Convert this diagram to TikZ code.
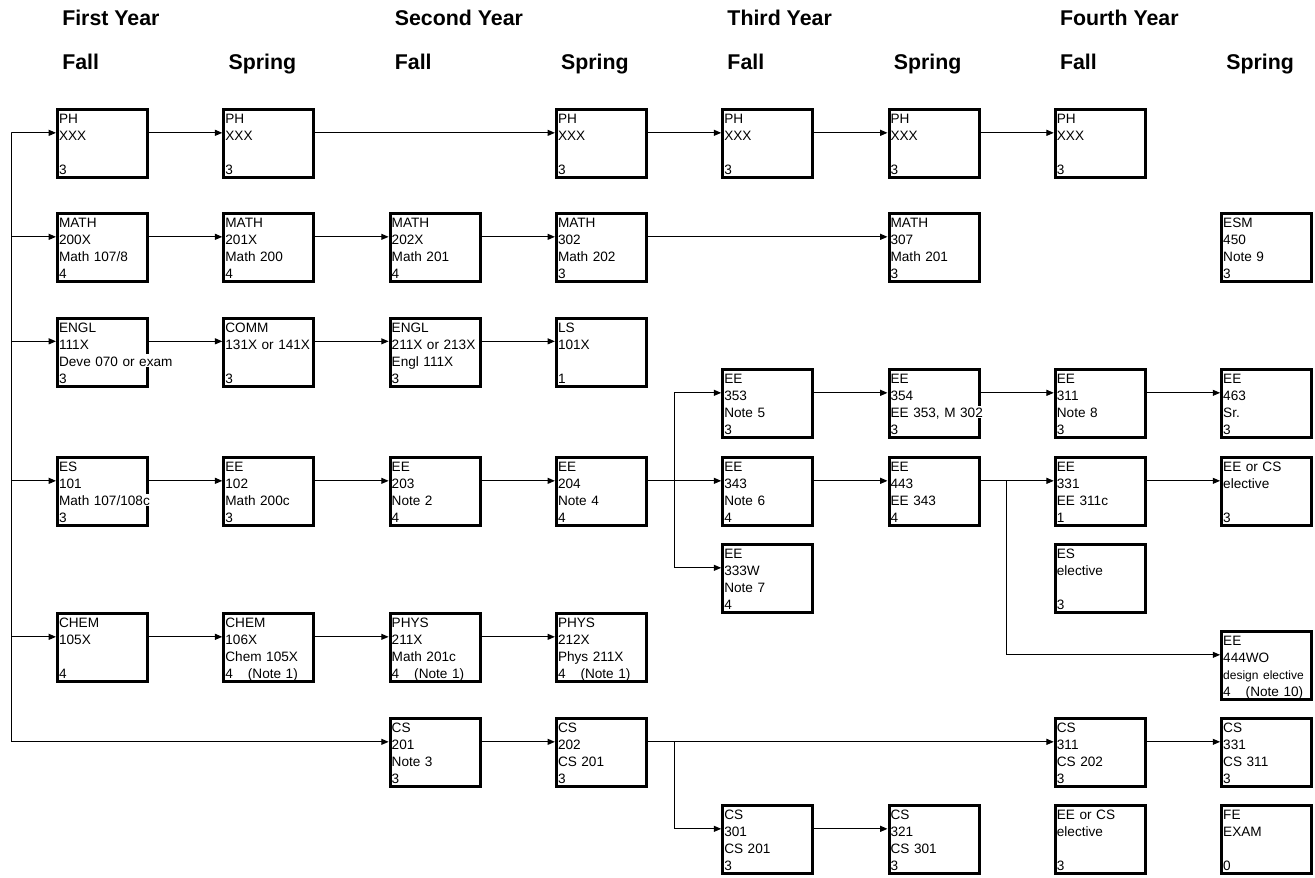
\documentclass[tikz,border=0pt]{standalone}
\usepackage{fontspec}
\setmainfont{Liberation Sans}
\usetikzlibrary{arrows.meta}

\setlength{\fboxsep}{0pt}
% one text line of a course box, white behind it
\newcommand{\cln}[1]{\colorbox{white}{\rule[-0.3pt]{0pt}{9.3pt}\smash{#1}}}
% name, position, four lines
\newcommand{\course}[6]{\node[coursebox] (#1) at (#2) {\cln{#3}\\\cln{#4}\\\cln{#5}\\\cln{#6}};}
\newcommand{\dy}{8pt}

\tikzset{
  coursebox/.style={draw, line width=2.25pt, minimum width=67.5pt, minimum height=51pt,
    text width=65.1pt, inner xsep=1.2pt, inner ysep=0pt, align=left,
    font=\fontsize{10.2}{12.75}\selectfont},
  header/.style={font=\fontsize{16}{19}\selectfont\bfseries, inner sep=0pt, anchor=base west},
  arr/.style={line width=0.75pt, -{Triangle[length=5.5pt,width=4.5pt]}}
}

\begin{document}
\begin{tikzpicture}[x=0.75pt, y=-0.75pt]
  \useasboundingbox (0,0) rectangle (1315,878);

  % headings
  \foreach \yr [count=\i] in {First,Second,Third,Fourth}
    \node[header] (yr\i) at ({62+332.6*(\i-1)},26) {\yr{} Year};
  \foreach \sem [count=\i] in {Fall,Spring,Fall,Spring,Fall,Spring,Fall,Spring}
    \node[header] (sem\i) at ({62+166.3*(\i-1)},69) {\sem};

  % first year
  \course{ph1}{102.5,143.5}{PH}{XXX}{}{3}
  \course{m1}{102.5,247.5}{MATH}{200X}{Math 107/8}{4}
  \course{en1}{102.5,352}{ENGL}{111X}{Deve 070 or exam}{3}
  \course{es101}{102.5,491.5}{ES}{101}{Math 107/108c}{3}
  \course{ch1}{102.5,647.5}{CHEM}{105X}{}{4}

  \course{ph2}{268.8,143.5}{PH}{XXX}{}{3}
  \course{m2}{268.8,247.5}{MATH}{201X}{Math 200}{4}
  \course{comm}{268.8,352}{COMM}{131X or 141X}{}{3}
  \course{ee102}{268.8,491.5}{EE}{102}{Math 200c}{3}
  \course{ch2}{268.8,647.5}{CHEM}{106X}{Chem 105X}{4\hspace{1.1em}(Note 1)}

  % second year
  \course{m3}{435.1,247.5}{MATH}{202X}{Math 201}{4}
  \course{en3}{435.1,352}{ENGL}{211X or 213X}{Engl 111X}{3}
  \course{ee203}{435.1,491.5}{EE}{203}{Note 2}{4}
  \course{phy1}{435.1,647.5}{PHYS}{211X}{Math 201c}{4\hspace{1.1em}(Note 1)}
  \course{cs201}{435.1,752.5}{CS}{201}{Note 3}{3}

  \course{ph4}{601.4,143.5}{PH}{XXX}{}{3}
  \course{m4}{601.4,247.5}{MATH}{302}{Math 202}{3}
  \course{ls}{601.4,352}{LS}{101X}{}{1}
  \course{ee204}{601.4,491.5}{EE}{204}{Note 4}{4}
  \course{phy2}{601.4,647.5}{PHYS}{212X}{Phys 211X}{4\hspace{1.1em}(Note 1)}
  \course{cs202}{601.4,752.5}{CS}{202}{CS 201}{3}

  % third year
  \course{ph5}{767.7,143.5}{PH}{XXX}{}{3}
  \course{ee353}{767.7,403.5}{EE}{353}{Note 5}{3}
  \course{ee343}{767.7,491.5}{EE}{343}{Note 6}{4}
  \course{ee333}{767.7,578.5}{EE}{333W}{Note 7}{4}
  \course{cs301}{767.7,839.5}{CS}{301}{CS 201}{3}

  \course{ph6}{934,143.5}{PH}{XXX}{}{3}
  \course{m6}{934,247.5}{MATH}{307}{Math 201}{3}
  \course{ee354}{934,403.5}{EE}{354}{EE 353, M 302}{3}
  \course{ee443}{934,491.5}{EE}{443}{EE 343}{4}
  \course{cs321}{934,839.5}{CS}{321}{CS 301}{3}

  % fourth year
  \course{ph7}{1100.3,143.5}{PH}{XXX}{}{3}
  \course{ee311}{1100.3,403.5}{EE}{311}{Note 8}{3}
  \course{ee331}{1100.3,491.5}{EE}{331}{EE 311c}{1}
  \course{eselec}{1100.3,578.5}{ES}{elective}{}{3}
  \course{cs311}{1100.3,752.5}{CS}{311}{CS 202}{3}
  \course{eecs7}{1100.3,839.5}{EE or CS}{elective}{}{3}

  \course{esm}{1266.6,247.5}{ESM}{450}{Note 9}{3}
  \course{ee463}{1266.6,403.5}{EE}{463}{Sr.}{3}
  \course{eecs8}{1266.6,491.5}{EE or CS}{elective}{}{3}
  \course{ee444}{1266.6,665.5}{EE}{444WO}{{\fontsize{9}{12.75}\selectfont design elective}}{4\hspace{1.1em}(Note 10)}
  \course{cs331}{1266.6,752.5}{CS}{331}{CS 311}{3}
  \course{fe}{1266.6,839.5}{FE}{EXAM}{}{0}

  % entry line on the left
  \coordinate (bus) at (11,132.8);
  \foreach \b in {ph1,m1,en1,es101,ch1,cs201}
    \draw[arr] (bus) |- ([yshift=\dy]\b.west);

  % straight prerequisites
  \foreach \a/\b in {ph1/ph2, ph2/ph4, ph4/ph5, ph5/ph6, ph6/ph7,
      m1/m2, m2/m3, m3/m4, m4/m6,
      en1/comm, comm/en3, en3/ls,
      es101/ee102, ee102/ee203, ee203/ee204, ee204/ee343,
      ee353/ee354, ee354/ee311, ee311/ee463,
      ee343/ee443, ee443/ee331, ee331/eecs8,
      ch1/ch2, ch2/phy1, phy1/phy2,
      cs201/cs202, cs202/cs311, cs311/cs331, cs301/cs321}
    \draw[arr] ([yshift=\dy]\a.east) -- ([yshift=\dy]\b.west);

  % branches
  \coordinate (j1) at ([xshift=20pt,yshift=\dy]ee204.east);
  \coordinate (j2) at ([xshift=19.5pt,yshift=\dy]ee443.east);
  \coordinate (j3) at ([xshift=20pt,yshift=\dy]cs202.east);
  \draw[arr] (j1) |- ([yshift=\dy]ee353.west);
  \draw[arr] (j1) |- ([yshift=\dy]ee333.west);
  \draw[arr] (j2) |- ([yshift=\dy]ee444.west);
  \draw[arr] (j3) |- ([yshift=\dy]cs301.west);
\end{tikzpicture}
\end{document}
